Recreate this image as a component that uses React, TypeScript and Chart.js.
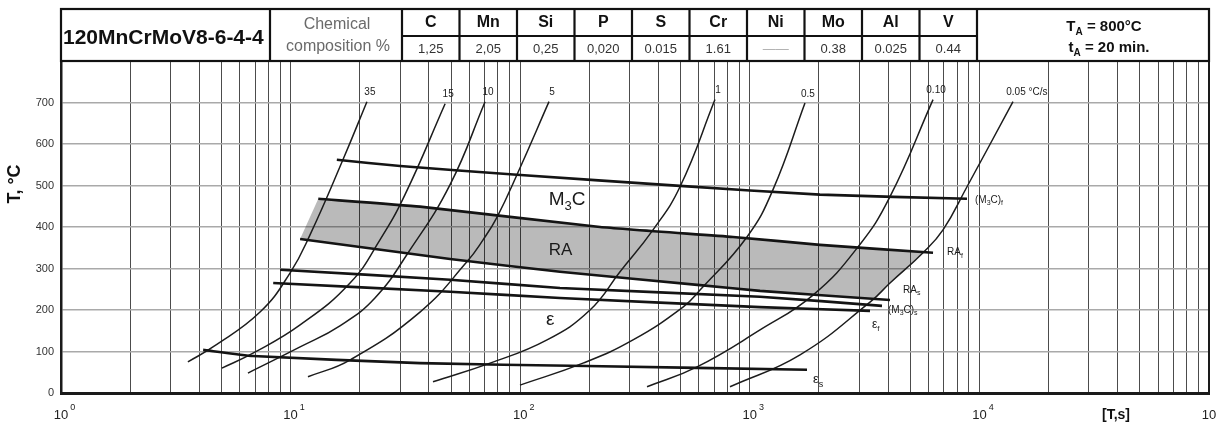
import React, { useEffect, useRef } from 'react';
import { Chart, registerables } from 'chart.js';

Chart.register(...registerables);

type Pt = [number, number];

// ---------------- data ----------------
const steelGrade = '120MnCrMoV8-6-4-4';
const compositionTitle = ['Chemical', 'composition %'];
const elements = ['C', 'Mn', 'Si', 'P', 'S', 'Cr', 'Ni', 'Mo', 'Al', 'V'];
const composition = ['1,25', '2,05', '0,25', '0,020', '0.015', '1.61', '——', '0.38', '0.025', '0.44'];
const austenitizing = ['T_A = 800°C', 't_A = 20 min.'];

const xDecades = [0, 1, 2, 3, 4, 5];
const yTickValues = [0, 100, 200, 300, 400, 500, 600, 700];
const yTitle = 'T, °C';
const xTitle = '[T,s]';

// cooling curves: [time s, temperature °C]
const coolingRates = ['35', '15', '10', '5', '1', '0.5', '0.10', '0.05 °C/s'];
const cool35: Pt[] = [[3.57, 75], [4.59, 111], [7.36, 195], [9.94, 289], [12.15, 381], [16.9, 562], [21.5, 702]];
const cool15: Pt[] = [[5.02, 60], [6.86, 96], [11.0, 164], [18.15, 265], [24.5, 369], [31.5, 478], [47.1, 697]];
const cool10: Pt[] = [[6.52, 48], [11.0, 111], [16.4, 162], [23.3, 229], [32.5, 338], [49.5, 502], [70.3, 702]];
const cool5: Pt[] = [[11.9, 39], [18.2, 80], [36.6, 195], [58.6, 316], [68.9, 369], [79.3, 424], [96.8, 526], [133.5, 702]];
const cool1: Pt[] = [[41.7, 27], [73.9, 72], [130.9, 128], [201.4, 200], [272.1, 292], [378.8, 393], [496.6, 497], [705.3, 707]];
const cool05: Pt[] = [[99.8, 19], [187.7, 72], [310, 128], [511.7, 207], [607, 248], [972, 376], [1262, 490], [1739, 699]];
const cool010: Pt[] = [[356.7, 15], [589, 63], [1108, 152], [1885, 236], [2960, 352], [4080, 473], [6281, 707]];
const cool005: Pt[] = [[820, 15], [1655, 92], [3338, 219], [4080, 265], [5681, 338], [6942, 393], [8831, 497], [14007, 702]];
const coolingCurves = [cool35, cool15, cool10, cool5, cool1, cool05, cool010, cool005];

// transformation lines
const phaseNames = ['(M_3C)_f', 'RA_f', 'RA_s', '(M_3C)_s', 'ε_f', 'ε_s'];
const m3cFinish: Pt[] = [[15.9, 562], [30.0, 547], [96.8, 526], [496.6, 499], [2021, 478], [8831, 468]];
const raFinish: Pt[] = [[13.2, 468], [36.6, 449], [222.7, 400], [845, 376], [2021, 357], [6281, 338]];
const raStart: Pt[] = [[11.0, 371], [49.5, 323], [149, 292], [607, 260], [1108, 246], [4080, 224]];
const m3cStart: Pt[] = [[9.0, 297], [49.5, 273], [149, 253], [1108, 232], [3765, 210]];
const epsFinish: Pt[] = [[8.4, 265], [49.5, 244], [149, 229], [1108, 207], [3338, 198]];
const epsStart: Pt[] = [[4.16, 104], [6.86, 89], [36.6, 72], [195, 65], [1775, 56]];
const phaseLines = [m3cFinish, raFinish, raStart, m3cStart, epsFinish, epsStart];

// right corners of the RA band (where it meets the 0.05 °C/s curve)
const bandRightEdge: Pt[] = [[5681, 338], [3440, 227]];

// region names and where they sit
const regionNames = ['M_3C', 'RA', 'ε'];
const regionAt: Pt[] = [[160, 465], [150, 345], [135, 176]];

// ---------------- helpers ----------------
const FAMILY = '"Liberation Sans", Arial, sans-serif';
const toXY = (pts: Pt[]) => pts.map(([x, y]) => ({ x, y }));

function drawRich(ctx: CanvasRenderingContext2D, text: string, x: number, y: number, size: number, align: 'left' | 'center' | 'right', bold = false) {
  const segs: { t: string; sub: boolean }[] = [];
  let buf = '';
  for (let i = 0; i < text.length; i++) {
    const ch = text[i];
    if (ch === '_' && i + 1 < text.length) {
      if (buf) { segs.push({ t: buf, sub: false }); buf = ''; }
      segs.push({ t: text[i + 1], sub: true });
      i++;
    } else buf += ch;
  }
  if (buf) segs.push({ t: buf, sub: false });
  const subSize = Math.round(size * 0.68);
  const f = (s: number) => `${bold ? 'bold ' : ''}${s}px ${FAMILY}`;
  let total = 0;
  const widths = segs.map((s) => {
    ctx.font = f(s.sub ? subSize : size);
    const m = ctx.measureText(s.t).width;
    total += m;
    return m;
  });
  let cx = align === 'center' ? x - total / 2 : align === 'right' ? x - total : x;
  ctx.textAlign = 'left';
  ctx.textBaseline = 'middle';
  segs.forEach((s, i) => {
    ctx.font = f(s.sub ? subSize : size);
    ctx.fillText(s.t, cx, s.sub ? y + size * 0.35 : y);
    cx += widths[i];
  });
}

const endLabelOffsets: Pt[] = [[8, 1], [14, 0], [13, -10], [6, 4], [2, 14], [6, 10]];
const endLabelSizes = [10, 10, 10, 10, 12, 13];

const overlay = {
  id: 'overlay',
  afterDraw(chart: any) {
    const { ctx, chartArea: ca, scales } = chart;
    const xs = scales.x;
    const ys = scales.y;
    ctx.save();

    // right frame
    ctx.strokeStyle = '#1a1a1a';
    ctx.lineWidth = 2;
    ctx.beginPath();
    ctx.moveTo(ca.right, ca.top);
    ctx.lineTo(ca.right, ca.bottom);
    ctx.stroke();

    // ---- table ----
    const L = ca.left, R = ca.right, top = 9, bot = ca.top, mid = 36;
    const c1 = L + 209, c2 = c1 + 132, cw = 57.5, c3 = c2 + cw * 10;
    ctx.strokeStyle = '#111';
    ctx.lineWidth = 2.2;
    ctx.strokeRect(L, top, R - L, bot - top);
    ctx.beginPath();
    [c1, c2, c3].forEach((cx) => { ctx.moveTo(cx, top); ctx.lineTo(cx, bot); });
    for (let k = 1; k < 10; k++) { ctx.moveTo(c2 + k * cw, top); ctx.lineTo(c2 + k * cw, bot); }
    ctx.moveTo(c2, mid); ctx.lineTo(c3, mid);
    ctx.stroke();

    ctx.fillStyle = '#111';
    drawRich(ctx, steelGrade, L + 2, 38, 21, 'left', true);
    ctx.fillStyle = '#6a6a6a';
    drawRich(ctx, compositionTitle[0], (c1 + c2) / 2 + 1, 25, 16, 'center');
    drawRich(ctx, compositionTitle[1], (c1 + c2) / 2 + 2, 47, 16, 'center');
    elements.forEach((el, k) => {
      const cx = c2 + cw * (k + 0.5);
      ctx.fillStyle = '#111';
      drawRich(ctx, el, cx, 23, 16, 'center', true);
      ctx.fillStyle = composition[k].startsWith('—') ? '#aaa' : '#333';
      drawRich(ctx, composition[k], cx, 49, 13, 'center');
    });
    ctx.fillStyle = '#111';
    drawRich(ctx, austenitizing[0], (c3 + R) / 2 + 11, 27, 15, 'center', true);
    drawRich(ctx, austenitizing[1], (c3 + R) / 2 + 16, 48, 15, 'center', true);

    // ---- x tick labels 10^n ----
    ctx.fillStyle = '#222';
    xDecades.forEach((p) => {
      const tx = xs.getPixelForValue(Math.pow(10, p));
      ctx.font = `13px ${FAMILY}`;
      ctx.textAlign = 'center';
      ctx.textBaseline = 'middle';
      const w = ctx.measureText('10').width;
      ctx.fillText('10', tx, 415);
      ctx.font = `9px ${FAMILY}`;
      ctx.textAlign = 'left';
      ctx.fillText(String(p), tx + w / 2 + 2, 408);
    });

    // axis titles
    ctx.fillStyle = '#111';
    drawRich(ctx, xTitle, 1116, 415, 14, 'center', true);
    ctx.save();
    ctx.translate(15, 184);
    ctx.rotate(-Math.PI / 2);
    drawRich(ctx, yTitle, 0, 0, 18, 'center', true);
    ctx.restore();

    // cooling-rate labels at curve tops
    ctx.fillStyle = '#1a1a1a';
    coolingCurves.forEach((c, i) => {
      const [t, T] = c[c.length - 1];
      const px = xs.getPixelForValue(t);
      const py = ys.getPixelForValue(T);
      const label = coolingRates[i];
      ctx.font = `10px ${FAMILY}`;
      const head = label.split(' ')[0];
      const hw = ctx.measureText(head).width;
      drawRich(ctx, label, px + 3 - hw / 2, py - 9, 10, 'left');
    });

    // phase line end labels
    phaseLines.forEach((ln, i) => {
      const [t, T] = ln[ln.length - 1];
      const px = xs.getPixelForValue(t) + endLabelOffsets[i][0];
      const py = ys.getPixelForValue(T) + endLabelOffsets[i][1];
      drawRich(ctx, phaseNames[i], px, py, endLabelSizes[i], 'left');
    });

    // region labels
    const regionSizes = [19, 17, 19];
    regionNames.forEach((nm, i) => {
      const px = xs.getPixelForValue(regionAt[i][0]);
      const py = ys.getPixelForValue(regionAt[i][1]);
      drawRich(ctx, nm, px, py, regionSizes[i], 'center');
    });

    ctx.restore();
  },
};

export default function App() {
  const ref = useRef<HTMLCanvasElement>(null);

  useEffect(() => {
    const canvas = ref.current;
    if (!canvas) return;

    const shade: Pt[] = [
      ...raFinish.filter((p) => p[0] < bandRightEdge[0][0]),
      ...bandRightEdge,
      ...raStart.filter((p) => p[0] < bandRightEdge[1][0]).reverse(),
    ];

    const xTickVals: number[] = [];
    for (let e = 0; e < 5; e++) for (let n = 1; n <= 9; n++) xTickVals.push(n * Math.pow(10, e));
    xTickVals.push(100000);

    const datasets: any[] = [
      {
        data: toXY(shade),
        borderColor: 'rgba(0,0,0,0)',
        borderWidth: 0,
        backgroundColor: 'rgba(0,0,0,0.27)',
        fill: 'shape',
        pointRadius: 0,
        tension: 0,
        order: 5,
      },
      ...coolingCurves.map((c) => ({
        data: toXY(c),
        borderColor: '#1c1c1c',
        borderWidth: 1.5,
        pointRadius: 0,
        fill: false,
        tension: 0.45,
        order: 1,
      })),
      ...phaseLines.map((c) => ({
        data: toXY(c),
        borderColor: '#141414',
        borderWidth: 2.6,
        pointRadius: 0,
        fill: false,
        tension: 0.15,
        order: 0,
      })),
    ];

    const chart = new Chart(canvas, {
      type: 'line',
      data: { datasets },
      options: {
        animation: false,
        responsive: false,
        events: [],
        layout: { padding: { top: 61, right: 7, left: 0, bottom: 0 } },
        plugins: { legend: { display: false }, tooltip: { enabled: false } },
        scales: {
          x: {
            type: 'logarithmic',
            min: 1,
            max: 100000,
            afterBuildTicks: (scale: any) => {
              scale.ticks = xTickVals.map((v) => ({ value: v }));
            },
            afterFit: (scale: any) => { scale.height = 35; },
            ticks: { display: false, autoSkip: false },
            grid: { color: 'rgba(45,45,45,0.85)', lineWidth: 1, drawTicks: false },
            border: { display: true, color: '#1a1a1a', width: 3 },
          },
          y: {
            type: 'linear',
            min: 0,
            max: 800,
            afterBuildTicks: (scale: any) => {
              scale.ticks = [...yTickValues, 800].map((v) => ({ value: v }));
            },
            afterFit: (scale: any) => { scale.width = 61; },
            ticks: {
              padding: 7,
              color: '#333',
              font: { size: 11, family: FAMILY },
              callback: (v: any) => (yTickValues.includes(Number(v)) ? String(v) : ''),
            },
            grid: { color: '#a9a9a9', lineWidth: 1.4, drawTicks: false },
            border: { display: true, color: '#1a1a1a', width: 2.5 },
          },
        },
      } as any,
      plugins: [overlay],
    });

    return () => chart.destroy();
  }, []);

  return (
    <div style={{ position: 'fixed', left: 0, top: 0, width: 1216, height: 428, background: '#fff' }}>
      <canvas ref={ref} width={1216} height={428} style={{ display: 'block', width: 1216, height: 428 }} />
    </div>
  );
}
